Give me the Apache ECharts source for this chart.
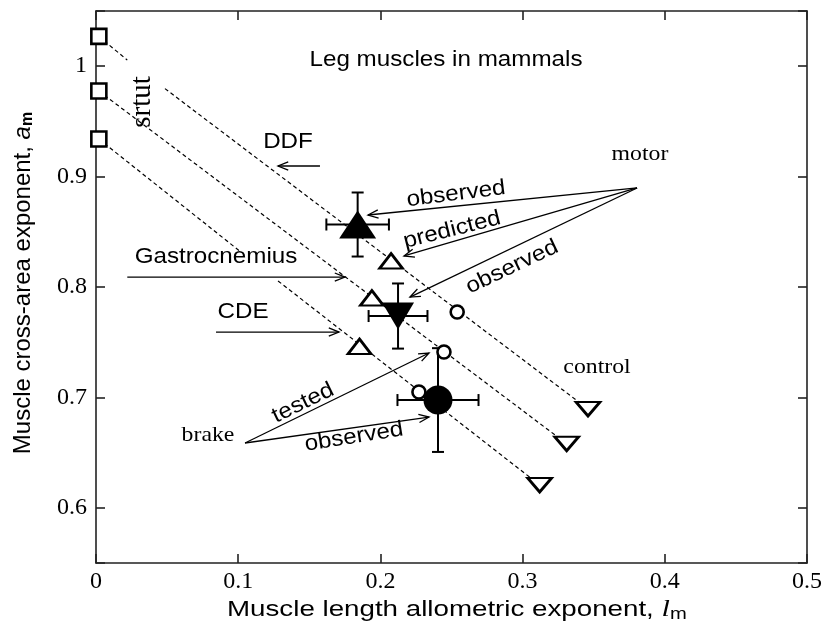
<!DOCTYPE html>
<html>
<head>
<meta charset="utf-8">
<title>Leg muscles in mammals</title>
<script src="https://cdn.jsdelivr.net/npm/echarts/dist/echarts.min.js"></script>
<style>
  html, body { margin: 0; padding: 0; background: #fff; }
  #chart { width: 827px; height: 624px; }
</style>
</head>
<body>
<div id="chart"></div>
<script>
const sans = '"Liberation Sans", Arial, sans-serif';
const serif = '"Liberation Serif", "Times New Roman", serif';
const ink = "#000";

// strut ends at l_m = 0, control ends, and the open points
const strutPts = [[0.002, 1.027], [0.002, 0.9775], [0.002, 0.934]];
const controlPts = [[0.346, 0.6895], [0.331, 0.658], [0.312, 0.6207]];
const triOpenPts = [[0.2075, 0.8235], [0.194, 0.79], [0.1853, 0.7461]];
const circleOpenPts = [[0.254, 0.7774], [0.2447, 0.7411], [0.2271, 0.7049]];
// observed means: [l_m, a_m, l_m error, a_m error]
const ddfObs = [[0.184, 0.8566, 0.022, 0.029]];
const gastroObs = [[0.2124, 0.7737, 0.0207, 0.0295]];
const cdeObs = [[0.2405, 0.6976, 0.0285, 0.047]];
// dashed guides (broken where the labels sit)
const guideLines = [
  [[0.002, 1.027], [0.022, 1.0055]],
  [[0.0485, 0.9797], [0.346, 0.6895]],
  [[0.002, 0.9775], [0.331, 0.658]],
  [[0.002, 0.934], [0.101, 0.8326]],
  [[0.128, 0.8055], [0.312, 0.6207]],
];
// annotation arrows: [from l_m, from a_m, to l_m, to a_m]
const arrows = [
  [0.1575, 0.9096, 0.128, 0.9096],
  [0.022, 0.809, 0.1751, 0.809],
  [0.0844, 0.7592, 0.1709, 0.7592],
  [0.3805, 0.8897, 0.1913, 0.8652],
  [0.3805, 0.8897, 0.2166, 0.8281],
  [0.3805, 0.8897, 0.2208, 0.7909],
  [0.1048, 0.6587, 0.2342, 0.7402],
  [0.1048, 0.6587, 0.2342, 0.6822],
];
const yTickValues = [0.6, 0.7, 0.8, 0.9, 1];

const chart = echarts.init(document.getElementById("chart"));

const hollow = { color: "#fff", borderColor: ink, borderWidth: 2.6, opacity: 1 };
const filled = { color: ink, opacity: 1 };

const renderErrorBar = (params, api) => {
  const x = api.value(0), y = api.value(1), ex = api.value(2), ey = api.value(3);
  const l = api.coord([x - ex, y]), r = api.coord([x + ex, y]);
  const t = api.coord([x, y + ey]), b = api.coord([x, y - ey]);
  const c = 6;
  const style = { stroke: ink, lineWidth: 2 };
  return {
    type: "group",
    children: [
      { type: "line", shape: { x1: l[0], y1: l[1], x2: r[0], y2: r[1] }, style },
      { type: "line", shape: { x1: l[0], y1: l[1] - c, x2: l[0], y2: l[1] + c }, style },
      { type: "line", shape: { x1: r[0], y1: r[1] - c, x2: r[0], y2: r[1] + c }, style },
      { type: "line", shape: { x1: t[0], y1: t[1], x2: b[0], y2: b[1] }, style },
      { type: "line", shape: { x1: t[0] - c, y1: t[1], x2: t[0] + c, y2: t[1] }, style },
      { type: "line", shape: { x1: b[0] - c, y1: b[1], x2: b[0] + c, y2: b[1] }, style },
    ],
  };
};

const renderArrow = (params, api) => {
  const p0 = api.coord([api.value(0), api.value(1)]);
  const p1 = api.coord([api.value(2), api.value(3)]);
  const ang = Math.atan2(p1[1] - p0[1], p1[0] - p0[0]);
  const len = 11, spread = 0.38;
  const h1 = [p1[0] - len * Math.cos(ang - spread), p1[1] - len * Math.sin(ang - spread)];
  const h2 = [p1[0] - len * Math.cos(ang + spread), p1[1] - len * Math.sin(ang + spread)];
  const style = { stroke: "#000", lineWidth: 1.3, fill: null };
  return {
    type: "group",
    children: [
      { type: "line", shape: { x1: p0[0], y1: p0[1], x2: p1[0], y2: p1[1] }, style },
      { type: "polyline", shape: { points: [h1, p1, h2] }, style },
    ],
  };
};

const text = (str, x, y, opts = {}) => ({
  type: "text",
  x,
  y,
  rotation: opts.rotation || 0,
  scaleX: opts.scaleX || 1,
  silent: true,
  z: 20,
  style: {
    text: str,
    fontSize: opts.fontSize || 22,
    fontFamily: opts.fontFamily || sans,
    fill: "#000",
    align: opts.align || "center",
    verticalAlign: "middle",
    rich: opts.rich,
  },
});

const deg = (d) => (d * Math.PI) / 180;

const tickLabel = {
  color: "#000",
  fontFamily: serif,
  fontSize: 24,
};

const frameAxis = (extra) => ({
  type: "value",
  axisLine: { show: true, onZero: false, lineStyle: { color: "#222", width: 1.6 } },
  axisTick: { show: true, inside: true, length: 9, lineStyle: { color: "#222", width: 1.6 } },
  splitLine: { show: false },
  ...extra,
});

const option = {
  animation: false,
  backgroundColor: "#fff",
  grid: { left: 96, right: 20, top: 11, bottom: 61, containLabel: false, outerBoundsMode: "none" },
  xAxis: [
    frameAxis({
      min: 0, max: 0.5, interval: 0.1, position: "bottom",
      axisLabel: { margin: 7, ...tickLabel },
    }),
    frameAxis({
      min: 0, max: 0.5, interval: 0.1, position: "top",
      axisLabel: { show: false },
    }),
  ],
  yAxis: [
    frameAxis({
      min: 0.55, max: 1.05, splitNumber: 5, position: "left",
      axisLabel: {
        margin: 9, ...tickLabel,
        formatter: (v) => (yTickValues.some((t) => Math.abs(t - v) < 1e-6) ? String(+v.toFixed(1)) : ""),
      },
    }),
    frameAxis({
      min: 0.55, max: 1.05, splitNumber: 5, position: "right",
      axisLabel: { show: false },
    }),
  ],
  series: [
    ...guideLines.map((seg) => ({
      type: "line",
      data: seg,
      symbol: "none",
      silent: true,
      lineStyle: { color: "#000", width: 1.2, type: [4, 3] },
    })),
    {
      type: "custom",
      renderItem: renderArrow,
      data: arrows,
      silent: true,
    },
    {
      type: "custom",
      renderItem: renderErrorBar,
      data: [...ddfObs, ...gastroObs, ...cdeObs],
      silent: true,
      z: 3,
    },
    { type: "scatter", data: strutPts, symbol: "rect", symbolSize: 15, itemStyle: hollow, z: 4 },
    { type: "scatter", data: controlPts, symbol: "triangle", symbolRotate: 180, symbolSize: [24, 14], itemStyle: hollow, z: 4 },
    { type: "scatter", data: triOpenPts, symbol: "triangle", symbolSize: [23, 15], itemStyle: hollow, z: 4 },
    { type: "scatter", data: circleOpenPts, symbol: "circle", symbolSize: 13, itemStyle: hollow, z: 4 },
    { type: "scatter", data: ddfObs.map((d) => d.slice(0, 2)), symbol: "triangle", symbolSize: [37, 28], itemStyle: filled, z: 5 },
    { type: "scatter", data: gastroObs.map((d) => d.slice(0, 2)), symbol: "triangle", symbolRotate: 180, symbolSize: [32, 27], itemStyle: filled, z: 5 },
    { type: "scatter", data: cdeObs.map((d) => d.slice(0, 2)), symbol: "circle", symbolSize: 29, itemStyle: filled, z: 5 },
  ],
  graphic: [
    text("Leg muscles in mammals", 446, 60, { scaleX: 1.1 }),
    text("DDF", 288, 142, { scaleX: 1.1 }),
    text("Gastrocnemius", 216, 257, { scaleX: 1.1 }),
    text("CDE", 243, 312, { scaleX: 1.1 }),
    text("motor", 640, 154, { fontFamily: serif, scaleX: 1.08 }),
    text("control", 597, 367, { fontFamily: serif, scaleX: 1.08 }),
    text("brake", 208, 435, { fontFamily: serif, scaleX: 1.08 }),
    text("srtut", 142, 102, { fontFamily: serif, fontSize: 29, rotation: deg(90) }),
    text("observed", 456, 194, { scaleX: 1.1, rotation: deg(7.2) }),
    text("predicted", 452, 230, { scaleX: 1.1, rotation: deg(14) }),
    text("observed", 512, 267, { scaleX: 1.1, rotation: deg(25.4) }),
    text("tested", 303, 403, { scaleX: 1.1, rotation: deg(26) }),
    text("observed", 354, 437, { scaleX: 1.1, rotation: deg(9) }),
    // axis titles
    text("Muscle length allometric exponent, {l|l}{m|m}", 227, 610, {
      align: "left",
      scaleX: 1.26,
      rich: {
        l: { fontFamily: serif, fontStyle: "italic", fontSize: 24 },
        m: { fontFamily: sans, fontSize: 16, padding: [10, 0, 0, 0] },
      },
    }),
    text("Muscle cross-area exponent, {a|a}{m|m}", 23, 283, {
      fontSize: 24,
      rotation: deg(90),
      rich: {
        a: { fontFamily: sans, fontStyle: "italic", fontSize: 24 },
        m: { fontFamily: sans, fontWeight: "bold", fontSize: 16, padding: [10, 0, 0, 0] },
      },
    }),
  ],
};

chart.setOption(option);
window.addEventListener("resize", () => chart.resize());
</script>
</body>
</html>
